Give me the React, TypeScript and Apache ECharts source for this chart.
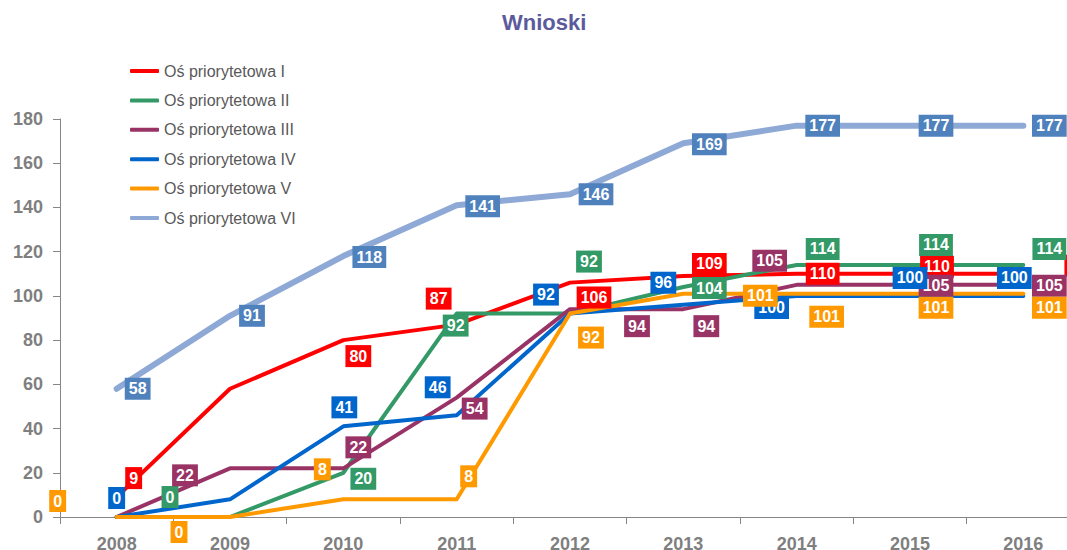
import React, { useEffect, useRef } from "react";
import * as echarts from "echarts";

const years = ["2008", "2009", "2010", "2011", "2012", "2013", "2014", "2015", "2016"];
const seriesNames = [
  "Oś priorytetowa I",
  "Oś priorytetowa II",
  "Oś priorytetowa III",
  "Oś priorytetowa IV",
  "Oś priorytetowa V",
  "Oś priorytetowa VI",
];
const os1 = [9, 58, 80, 87, 106, 109, 110, 110, 110];
const os2 = [0, 0, 20, 92, 92, 104, 114, 114, 114];
const os3 = [0, 22, 22, 54, 94, 94, 105, 105, 105];
const os4 = [0, 8, 41, 46, 92, 96, 100, 100, 100];
const os5 = [0, 0, 8, 8, 92, 101, 101, 101, 101];
const os6 = [58, 91, 118, 141, 146, 169, 177, 177, 177];
const yTicks = [0, 20, 40, 60, 80, 100, 120, 140, 160, 180];

// styling: line colours, label colours, widths, label offsets (px)
const lineColors = ["#FF0000", "#339966", "#993366", "#0066CC", "#FF9900", "#8EA9D6"];
const labelColors = ["#FF0000", "#339966", "#993366", "#0066CC", "#FF9900", "#4F81BD"];
const lineWidths = [4, 4, 4, 4, 4, 6];
type Off = [number, number] | null;
const labelOffsets: Off[][] = [
  [[17, -19], null, [15, 16], [-18, -26], [24, 15], [26, -12], [26, 0], [27, -7], [58, -8]],
  [null, [-60, -20], [20, 6], [-1, 12], [19, -52], [26, 1], [26, -16], [26, -20], [26, -16]],
  [null, [-45, 7], [15, -21], [18, 11], [67, 17], [23, 17], [-27, -24], [26, 1], [26, 1]],
  [[0, -19], null, [1, -19], [-19, -28], [-24, -19], [-20, -22], [-25, 12], [0, -18], [-9, -18]],
  [[-59, -16], [-51, 15], [-21, -30], [12, -23], [21, 24], [77, 2], [30, 23], [26, 14], [26, 14]],
  [[21, 0], [22, 0], [26, 1], [26, 1], [26, 0], [26, 1], [26, 0], [26, 0], [26, 0]],
];

const FONT = "'Liberation Sans', Arial, sans-serif";

export default function App() {
  const ref = useRef<HTMLDivElement>(null);
  useEffect(() => {
    if (!ref.current) return;
    const chart = echarts.init(ref.current, undefined, { renderer: "svg" });
    const all = [os1, os2, os3, os4, os5, os6];
    const lineSeries = all.map((vals, i) => ({
      name: seriesNames[i],
      type: "line",
      data: vals,
      color: lineColors[i],
      symbol: "none",
      z: 2,
      lineStyle: { width: lineWidths[i], color: lineColors[i], cap: "round", join: "round" },
    }));
    const labelSeries = all.map((vals, i) => ({
      name: "lbl" + i,
      type: "line",
      z: 3 + i,
      data: vals.map((v, j) => {
        const off = labelOffsets[i][j];
        return {
          value: v,
          label: off ? { show: true, offset: off } : { show: false },
        };
      }),
      symbol: "circle",
      symbolSize: 1,
      itemStyle: { color: "rgba(0,0,0,0)" },
      lineStyle: { width: 0, opacity: 0 },
      silent: true,
      label: {
        show: true,
        position: "inside",
        color: "#ffffff",
        fontFamily: FONT,
        fontWeight: "bold",
        fontSize: 16,
        lineHeight: 17,
        backgroundColor: labelColors[i],
        padding: [3, 4, 2, 4],
      },
    }));
    chart.setOption({
      animation: false,
      title: {
        text: "Wnioski",
        left: 497,
        top: 6,
        textStyle: { color: "#5B5A9C", fontSize: 22, fontWeight: "bold", fontFamily: FONT },
      },
      legend: {
        data: seriesNames,
        orient: "vertical",
        left: 125,
        top: 58,
        icon: "roundRect",
        itemWidth: 29,
        itemHeight: 4,
        itemGap: 13.4,
        textStyle: { color: "#595959", fontSize: 16, lineHeight: 16, fontFamily: FONT },
      },
      grid: {
        left: 60,
        right: -13,
        top: 119,
        bottom: 33,
        containLabel: false,
        outerBoundsMode: "none",
      },
      xAxis: {
        type: "category",
        data: years,
        boundaryGap: true,
        axisLine: { lineStyle: { color: "#868686", width: 1 } },
        axisTick: { show: true, length: 7, lineStyle: { color: "#868686" } },
        axisLabel: {
          color: "#7F7F7F",
          fontSize: 18,
          fontWeight: "bold",
          fontFamily: FONT,
          margin: 18,
          interval: 0,
        },
        splitLine: { show: false },
      },
      yAxis: {
        type: "value",
        min: yTicks[0],
        max: yTicks[yTicks.length - 1],
        interval: yTicks[1] - yTicks[0],
        axisLine: { show: true, lineStyle: { color: "#868686", width: 1 } },
        axisTick: { show: true, length: 7, lineStyle: { color: "#868686" } },
        axisLabel: {
          color: "#7F7F7F",
          fontSize: 18,
          fontWeight: "bold",
          fontFamily: FONT,
          margin: 17,
        },
        splitLine: { show: false },
      },
      series: [...lineSeries, ...labelSeries],
    });
    return () => chart.dispose();
  }, []);
  return (
    <div
      ref={ref}
      style={{ position: "fixed", left: 0, top: 0, width: 1067, height: 550, background: "#ffffff" }}
    />
  );
}
